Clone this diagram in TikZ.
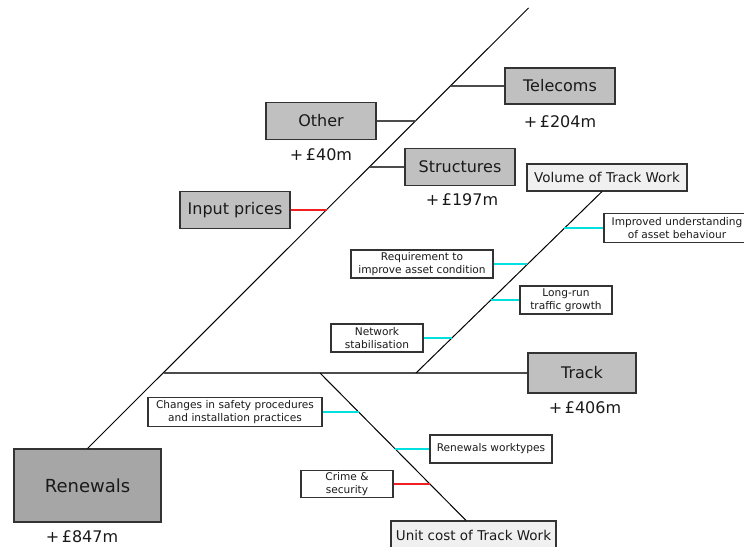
\documentclass[tikz,border=0pt]{standalone}
\usepackage{fontspec}
\setmainfont{DejaVu Sans}
\definecolor{boxgray}{HTML}{C0C0C0}
\definecolor{rootgray}{HTML}{A6A6A6}
\definecolor{palegray}{HTML}{F0F0F0}
\definecolor{edgegray}{HTML}{333333}
\definecolor{textgray}{HTML}{1A1A1A}
\definecolor{linkcyan}{HTML}{00E0E0}
\definecolor{linkred}{HTML}{F02020}
\tikzset{
  bigbox/.style={draw=edgegray, line width=1.1pt, fill=boxgray, text=textgray,
    font=\fontsize{16}{19}\selectfont, inner sep=0pt},
  rootbox/.style={bigbox, fill=rootgray, font=\fontsize{18}{21}\selectfont},
  subbox/.style={draw=edgegray, line width=1.1pt, fill=palegray, text=textgray,
    font=\fontsize{13.5}{16}\selectfont, inner sep=0pt},
  causebox/.style={draw=edgegray, line width=1.1pt, fill=white, text=textgray,
    font=\fontsize{10.6}{12.6}\selectfont, align=center, inner sep=0pt},
  amount/.style={text=textgray, font=\fontsize{16}{19}\selectfont},
  spine/.style={draw=black, line width=1pt},
  bone/.style={draw=black!70, line width=1.1pt},
  cyanbone/.style={draw=linkcyan, line width=1.6pt},
  redbone/.style={draw=linkred, line width=1.6pt},
}
\begin{document}
\begin{tikzpicture}[x=1pt,y=-1pt]
\useasboundingbox[fill=white] (0,0) rectangle (744,546);

% main cost categories
\node[rootbox, minimum width=147pt, minimum height=73pt] (ren) at (87.5,485.5) {Renewals};
\node[bigbox, minimum width=110pt, minimum height=36pt] (tel) at (560,86) {Telecoms};
\node[bigbox, minimum width=110pt, minimum height=37pt] (oth) at (321,121) {Other};
\node[bigbox, minimum width=110pt, minimum height=37pt] (str) at (460,167) {Structures};
\node[bigbox, minimum width=110pt, minimum height=37pt] (inp) at (235,210) {Input prices};
\node[bigbox, minimum width=108pt, minimum height=40pt] (trk) at (582,373) {Track};

% amounts
\node[amount] (aren) at (82,537) {+\,£847m};
\node[amount] (atel) at (560,122) {+\,£204m};
\node[amount] (aoth) at (321,155) {+\,£40m};
\node[amount] (astr) at (462,200) {+\,£197m};
\node[amount] (atrk) at (585,408) {+\,£406m};

% track sub-branches
\node[subbox, minimum width=160pt, minimum height=27pt] (vol) at (607,177.5) {Volume of Track Work};
\node[subbox, minimum width=165pt, minimum height=28pt] (uc) at (473.5,535) {Unit cost of Track Work};

% causes on the volume branch
\node[causebox, minimum width=146pt, minimum height=29pt] (imp) at (677,228) {Improved understanding\\of asset behaviour};
\node[causebox, minimum width=142pt, minimum height=28pt] (req) at (422,264) {Requirement to\\improve asset condition};
\node[causebox, minimum width=92pt, minimum height=28pt] (lrt) at (566,300) {Long-run\\traffic growth};
\node[causebox, minimum width=92pt, minimum height=28pt] (net) at (377,338) {Network\\stabilisation};

% causes on the unit cost branch
\node[causebox, minimum width=174pt, minimum height=29pt] (saf) at (235,412) {Changes in safety procedures\\and installation practices};
\node[causebox, minimum width=122pt, minimum height=28pt] (rwt) at (491,449) {Renewals worktypes};
\node[causebox, minimum width=92pt, minimum height=27pt] (cri) at (347,484) {Crime \&\\security};

% spine and attachment points
\coordinate (top) at (528.5,8);
\coordinate (jtel) at (450.5,86);
\coordinate (joth) at (415.5,121);
\coordinate (jstr) at (369.5,167);
\coordinate (jinp) at (326.5,210);
\coordinate (jtrk) at (163.5,373);
\draw[spine] (ren.north) -- (top);

\draw[bone] (jtel) -- (tel.west);
\draw[bone] (oth.east) -- (joth);
\draw[bone] (jstr) -- (str.west);
\draw[redbone] (inp.east) -- (jinp);
\draw[bone] (jtrk) -- (trk.west);

% volume branch
\coordinate (vbase) at (416,373);
\draw[spine] (vbase) -- ([xshift=-5pt]vol.south);
\coordinate (jimp) at (564.2,228);
\coordinate (jreq) at (527.4,264);
\coordinate (jlrt) at (490.6,300);
\coordinate (jnet) at (451.8,338);
\draw[cyanbone] (jimp) -- (imp.west);
\draw[cyanbone] (req.east) -- (jreq);
\draw[cyanbone] (jlrt) -- (lrt.west);
\draw[cyanbone] (net.east) -- (jnet);

% unit cost branch
\coordinate (ubase) at (320,373);
\draw[spine] (ubase) -- ([xshift=-7.5pt]uc.north);
\coordinate (jsaf) at (358.5,412);
\coordinate (jrwt) at (395,449);
\coordinate (jcri) at (429.5,484);
\draw[cyanbone] (saf.east) -- (jsaf);
\draw[cyanbone] (jrwt) -- (rwt.west);
\draw[redbone] (cri.east) -- (jcri);
\end{tikzpicture}
\end{document}
